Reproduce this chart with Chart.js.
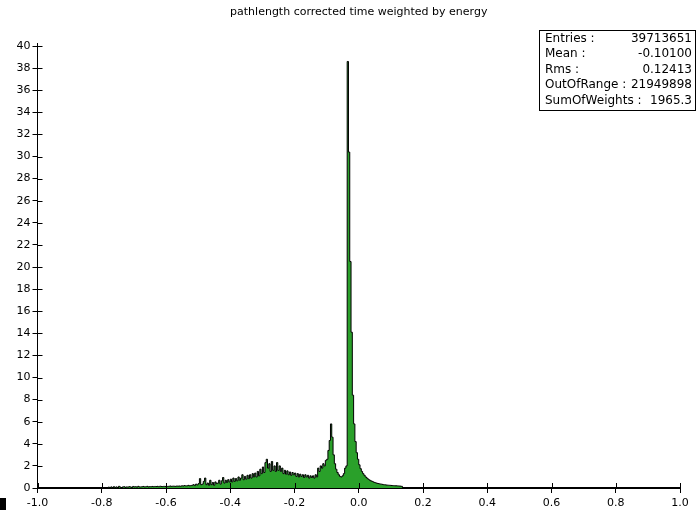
<!DOCTYPE html>
<html>
<head>
<meta charset="utf-8">
<script src="https://cdn.jsdelivr.net/npm/chart.js@4/dist/chart.umd.min.js"></script>
<style>
  html, body { margin: 0; padding: 0; background: #fff; }
  #wrap { width: 697px; height: 512px; position: relative; }
</style>
</head>
<body>
<div id="wrap"><canvas id="c" width="697" height="512"></canvas></div>
<script>
// ---- data ----
const chartTitle = "pathlength corrected time weighted by energy";
const binStart = -0.80;     // lower edge of first listed bin
const binWidth = 0.004;     // histogram bin width
const binValues = [
  0,0,0,0,0,0.08,0,0.1,0,0.12,
  0.05,0.1,0,0.15,0.08,0,0.1,0.12,0.06,0.1,
  0.08,0.12,0.1,0.05,0.14,0.1,0.12,0.08,0.15,0.1,
  0.1,0.12,0.14,0.1,0.12,0.15,0.1,0.13,0.12,0.14,
  0.12,0.14,0.13,0.15,0.12,0.16,0.14,0.13,0.15,0.14,
  0.15,0.14,0.16,0.18,0.15,0.17,0.16,0.15,0.18,0.17,
  0.18,0.16,0.2,0.18,0.22,0.19,0.2,0.24,0.2,0.22,
  0.25,0.3,0.22,0.35,0.28,0.4,0.85,0.3,0.35,0.6,
  0.9,0.3,0.45,0.25,0.7,0.3,0.5,0.25,0.55,0.4,
  0.45,0.7,0.35,0.65,0.95,0.45,0.7,0.5,0.75,0.55,
  0.8,0.55,0.9,0.6,0.85,0.65,1.0,0.7,0.9,1.2,
  0.75,1.05,0.8,1.15,0.85,1.2,0.9,1.3,1.0,1.35,
  1.0,1.5,1.1,1.7,1.3,1.9,1.4,2.3,2.6,1.8,
  2.2,1.5,2.4,1.6,2.0,1.5,2.3,1.6,2.0,1.5,
  1.8,1.3,1.6,1.25,1.55,1.2,1.45,1.15,1.4,1.2,
  1.35,1.05,1.3,1.0,1.25,1.05,1.2,0.95,1.2,1.0,
  1.15,0.9,1.1,0.95,1.1,0.9,1.2,1.0,1.8,1.5,
  2.0,1.8,2.2,2.0,2.5,2.6,3.4,4.3,5.8,4.6,
  3.0,2.2,1.7,1.4,1.2,1.05,1.0,1.1,1.3,1.8,
  2.0,38.6,30.4,20.5,14.1,8.4,5.8,4.2,3.2,2.6,
  2.1,1.75,1.5,1.3,1.15,1.0,0.9,0.8,0.72,0.65,
  0.6,0.55,0.5,0.46,0.42,0.4,0.37,0.35,0.33,0.3,
  0.29,0.27,0.26,0.25,0.24,0.23,0.22,0.21,0.2,0.2,
  0.19,0.18,0.17,0.15
];
const xRange = [-1.0, 1.0];
const xTickStep = 0.2;
const yRange = [0, 40.2];
const yTickStep = 2;
const statLabels = ["Entries :", "Mean :", "Rms :", "OutOfRange :", "SumOfWeights :"];
const statValues = ["39713651", "-0.10100", "0.12413", "21949898", "1965.3"];

// ---- build the step series from the bins ----
const points = [{ x: xRange[0], y: 0 }];
binValues.forEach((v, i) => points.push({ x: binStart + i * binWidth, y: v }));
points.push({ x: binStart + binValues.length * binWidth, y: 0 });
points.push({ x: xRange[1], y: 0 });

const FONT = "DejaVu Sans";

const decorPlugin = {
  id: 'decor',
  afterDraw(chart) {
    const ctx = chart.ctx;
    const xs = chart.scales.x, ys = chart.scales.y;
    const a = chart.chartArea;
    ctx.save();
    // inward halves of the axis ticks
    ctx.strokeStyle = '#000';
    ctx.lineWidth = 1;
    ctx.beginPath();
    ys.ticks.forEach(t => {
      const p = Math.round(ys.getPixelForValue(t.value)) + 0.5;
      ctx.moveTo(a.left, p); ctx.lineTo(a.left + 5, p);
    });
    xs.ticks.forEach(t => {
      const p = Math.round(xs.getPixelForValue(t.value)) + 0.5;
      ctx.moveTo(p, a.bottom); ctx.lineTo(p, a.bottom - 5);
    });
    ctx.stroke();
    // title
    ctx.fillStyle = '#000';
    ctx.font = "11px '" + FONT + "'";
    ctx.textAlign = 'center';
    ctx.textBaseline = 'middle';
    ctx.fillText(chartTitle, (a.left + a.right) / 2, 12);
    // statistics box
    const bx = 539.5, by = 30.5, bw = 156, bh = 80;
    ctx.fillStyle = '#fff';
    ctx.fillRect(bx, by, bw, bh);
    ctx.strokeRect(bx, by, bw, bh);
    ctx.fillStyle = '#000';
    ctx.font = "12px '" + FONT + "'";
    statLabels.forEach((lab, i) => {
      const yy = 38.5 + i * 15.5;
      ctx.textAlign = 'left';
      ctx.fillText(lab, 545, yy);
      ctx.textAlign = 'right';
      ctx.fillText(statValues[i], 692, yy);
    });
    // small black marker at bottom-left corner
    ctx.fillRect(0, 498, 6, 12);
    ctx.restore();
  }
};

new Chart(document.getElementById('c'), {
  type: 'line',
  data: {
    datasets: [{
      data: points,
      stepped: true,
      fill: 'origin',
      backgroundColor: 'rgb(42,160,42)',
      borderColor: '#000',
      borderWidth: 1,
      pointRadius: 0,
      tension: 0
    }]
  },
  options: {
    responsive: false,
    animation: false,
    events: [],
    layout: { padding: { top: 43.8, right: 17, left: 0, bottom: 0 } },
    plugins: { legend: { display: false }, tooltip: { enabled: false }, title: { display: false } },
    scales: {
      x: {
        type: 'linear',
        min: xRange[0], max: xRange[1],
        grid: { display: true, drawOnChartArea: false, drawTicks: true, tickLength: 5, color: '#000' },
        border: { display: true, color: '#000', width: 2 },
        ticks: {
          stepSize: xTickStep,
          color: '#000',
          padding: 4,
          maxRotation: 0,
          autoSkip: false,
          font: { family: FONT, size: 11 },
          callback: v => (Math.abs(v) < 1e-9 ? 0 : v).toFixed(1)
        },
        afterFit: s => { s.height = 24; }
      },
      y: {
        type: 'linear',
        min: yRange[0], max: yRange[1],
        grid: { display: true, drawOnChartArea: false, drawTicks: true, tickLength: 5, color: '#000' },
        border: { display: true, color: '#000', width: 1 },
        ticks: {
          stepSize: yTickStep,
          includeBounds: false,
          color: '#000',
          padding: 2,
          font: { family: FONT, size: 11 },
          callback: v => String(Math.round(v))
        },
        afterFit: s => { s.width = 37.5; }
      }
    }
  },
  plugins: [decorPlugin]
});
</script>
</body>
</html>
